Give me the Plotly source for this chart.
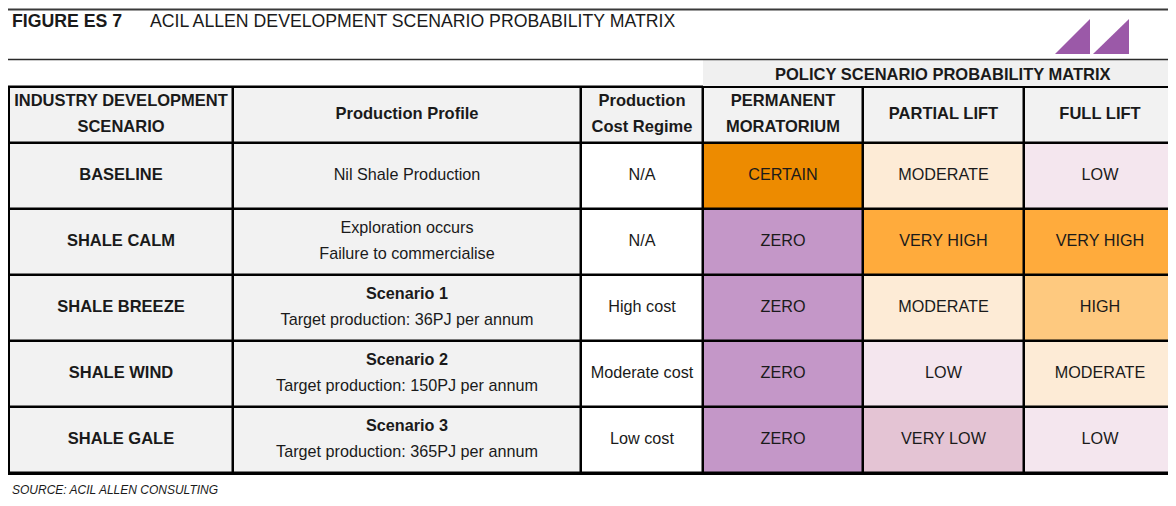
import plotly.graph_objects as go

PAGE_PAD = 8  # the page body margin shifts the figure by 8px
W, H = 1176 - PAGE_PAD, 506 - 2 * PAGE_PAD  # keep the page from scrolling

# table content
header = ["INDUSTRY DEVELOPMENT<br>SCENARIO", "Production Profile", "Production<br>Cost Regime",
          "PERMANENT<br>MORATORIUM", "PARTIAL LIFT", "FULL LIFT"]
scenarios = ["BASELINE", "SHALE CALM", "SHALE BREEZE", "SHALE WIND", "SHALE GALE"]
profiles = ["Nil Shale Production",
            "Exploration occurs<br>Failure to commercialise",
            "<b>Scenario 1</b><br>Target production: 36PJ per annum",
            "<b>Scenario 2</b><br>Target production: 150PJ per annum",
            "<b>Scenario 3</b><br>Target production: 365PJ per annum"]
cost_regimes = ["N/A", "N/A", "High cost", "Moderate cost", "Low cost"]
permanent_moratorium = ["CERTAIN", "ZERO", "ZERO", "ZERO", "ZERO"]
partial_lift = ["MODERATE", "VERY HIGH", "MODERATE", "LOW", "VERY LOW"]
full_lift = ["LOW", "VERY HIGH", "HIGH", "MODERATE", "LOW"]

level_colors = {
    "grey": "#f2f2f2",
    "white": "#ffffff",
    "ZERO": "#c497c8",
    "VERY LOW": "#e4c4d4",
    "LOW": "#f4e6ee",
    "MODERATE": "#fdebd6",
    "HIGH": "#fec97f",
    "VERY HIGH": "#ffab3c",
    "CERTAIN": "#ed8b00",
}

# layout in pixels
col_edges = [9, 233, 581, 703, 863, 1024, 1180]
row_edges = [87, 143, 209, 275, 341, 407, 473]
LINE_GAP = 26

keys = list(level_colors)
k = len(keys)
cscale = []
for i, key in enumerate(keys):
    cscale += [[i / k, level_colors[key]], [(i + 1) / k, level_colors[key]]]

def code(key):
    return keys.index(key) + 0.5

z = [[code("grey")] * 6]
for r in range(len(scenarios)):
    z.append([code("grey"), code("grey"), code("white"),
              code(permanent_moratorium[r]), code(partial_lift[r]), code(full_lift[r])])

xc = [(a + b) / 2 for a, b in zip(col_edges[:-1], col_edges[1:])]
xc[-1] = (col_edges[5] + 1176) / 2
yc = [(a + b) / 2 for a, b in zip(row_edges[:-1], row_edges[1:])]

def split_lines(cells, bold=False):
    # one text point per line so the line spacing can follow the original
    xs, ys, ts = [], [], []
    for x, y, t in cells:
        lines = t.split("<br>")
        for i, line in enumerate(lines):
            xs.append(x)
            ys.append(y + (i - (len(lines) - 1) / 2) * LINE_GAP)
            ts.append(f"<b>{line}</b>" if bold else line)
    return xs, ys, ts

BOLD = dict(family="Liberation Sans, Arial", size=16.5, color="#1a1a1a")
BODY = dict(family="Liberation Sans Narrow, Arial Narrow, Liberation Sans", size=16.2, color="#1a1a1a")

fig = go.Figure()

fig.add_trace(go.Heatmap(z=z, x=col_edges, y=row_edges, colorscale=cscale, zmin=0, zmax=k,
                         showscale=False, xgap=2.5, ygap=2.5, hoverinfo="skip"))

bold_cells = [(xc[c], yc[0], h) for c, h in enumerate(header)]
bold_cells += [(xc[0], yc[r + 1], s) for r, s in enumerate(scenarios)]
bx, by, bt = split_lines(bold_cells, bold=True)
fig.add_trace(go.Scatter(x=bx, y=by, mode="text", text=bt, textposition="middle center",
                         hoverinfo="skip", textfont=BOLD))

body_cells = []
for r in range(len(scenarios)):
    for c, vals in enumerate([profiles, cost_regimes, permanent_moratorium, partial_lift, full_lift]):
        body_cells.append((xc[c + 1], yc[r + 1], vals[r]))
tx, ty, tt = split_lines(body_cells)
fig.add_trace(go.Scatter(x=tx, y=ty, mode="text", text=tt, textposition="middle center",
                         hoverinfo="skip", textfont=BODY))

shapes = [
    # black backing for cell borders
    dict(type="rect", x0=7.5, x1=1185, y0=85.5, y1=475, fillcolor="black", line_width=0, layer="below"),
    # policy band
    dict(type="rect", x0=703, x1=1185, y0=60, y1=86, fillcolor="#f0f0f0", line_width=0, layer="below"),
    # rules
    dict(type="line", x0=0, x1=1185, y0=9.5, y1=9.5, line=dict(color="#3a3a3a", width=2)),
    dict(type="line", x0=0, x1=1185, y0=59.5, y1=59.5, line=dict(color="#2a2a2a", width=1.5)),
    # logo
    dict(type="path", path="M 1055 54 L 1090 54 L 1090 19 Z", fillcolor="#9b59a8", line_width=0),
    dict(type="path", path="M 1093 54 L 1129 54 L 1129 19 Z", fillcolor="#9b59a8", line_width=0),
]

TITLE = dict(family="Liberation Sans Narrow, Arial Narrow, Liberation Sans", size=17.7, color="#1a1a1a")
annotations = [
    dict(x=10, y=21, text="<b>FIGURE ES 7</b>", showarrow=False, xanchor="left", yanchor="middle", font=TITLE),
    dict(x=148, y=21, text="ACIL ALLEN DEVELOPMENT SCENARIO PROBABILITY MATRIX", showarrow=False,
         xanchor="left", yanchor="middle", font=TITLE),
    dict(x=943, y=74, text="<b>POLICY SCENARIO PROBABILITY MATRIX</b>", showarrow=False,
         xanchor="center", yanchor="middle", font=BOLD),
    dict(x=10, y=490, text="<i>SOURCE: ACIL ALLEN CONSULTING</i>", showarrow=False,
         xanchor="left", yanchor="middle",
         font=dict(family="Liberation Sans Narrow, Arial Narrow, Liberation Sans", size=12, color="#1a1a1a")),
]

fig.update_layout(width=W, height=H, margin=dict(l=0, r=0, t=0, b=0),
                  plot_bgcolor="white", paper_bgcolor="white", showlegend=False,
                  shapes=shapes, annotations=annotations,
                  xaxis=dict(range=[PAGE_PAD, W + PAGE_PAD], visible=False, fixedrange=True),
                  yaxis=dict(range=[H + PAGE_PAD, PAGE_PAD], visible=False, fixedrange=True))

fig.write_html("out.html")
